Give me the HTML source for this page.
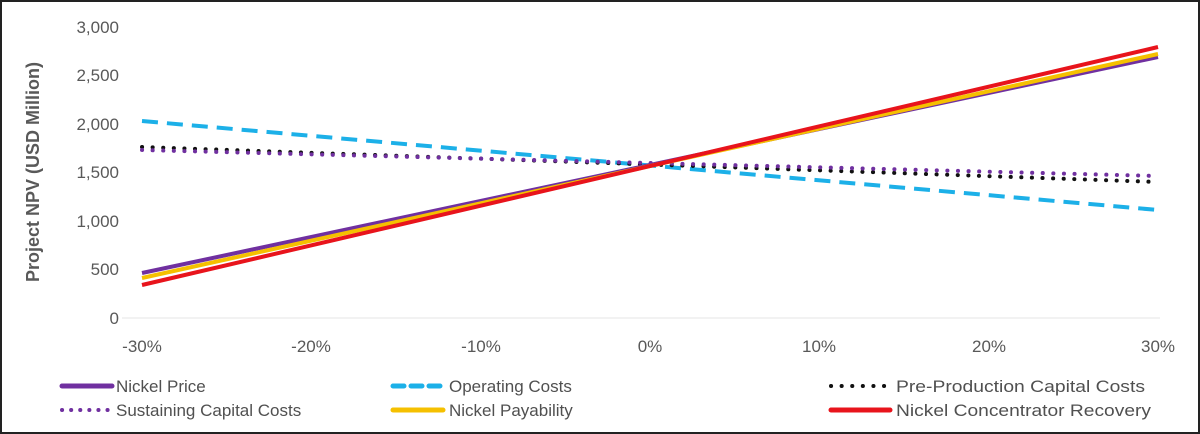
<!DOCTYPE html>
<html><head><meta charset="utf-8"><style>
body{margin:0;background:#fff}
svg{display:block;font-family:"Liberation Sans",sans-serif}
</style></head><body>
<svg width="1200" height="434" viewBox="0 0 1200 434">
<rect x="1" y="1" width="1198" height="432" fill="#fff" stroke="#222" stroke-width="2"/>
<line x1="122" y1="318" x2="1160" y2="318" stroke="#e4e4e4" stroke-width="1"/>
<g fill="#595959" font-size="17" text-anchor="end">
<text x="119" y="33">3,000</text><text x="119" y="81">2,500</text><text x="119" y="130">2,000</text>
<text x="119" y="178">1,500</text><text x="119" y="227">1,000</text><text x="119" y="275">500</text><text x="119" y="324">0</text>
</g>
<g fill="#595959" font-size="17" text-anchor="middle">
<text x="142" y="352">-30%</text><text x="311" y="352">-20%</text><text x="481" y="352">-10%</text>
<text x="650" y="352">0%</text><text x="819" y="352">10%</text><text x="989" y="352">20%</text><text x="1158" y="352">30%</text>
</g>
<text transform="translate(39,172) rotate(-90)" text-anchor="middle" fill="#595959" font-size="18" font-weight="bold">Project NPV (USD Million)</text>
<line x1="142" y1="121" x2="1158" y2="210" stroke="#1cb0e8" stroke-width="4" stroke-dasharray="16,9"/>
<line x1="142" y1="147" x2="1158" y2="182" stroke="#111" stroke-width="4" stroke-dasharray="0.1,10.5" stroke-linecap="round"/>
<line x1="142" y1="150" x2="1158" y2="176" stroke="#7030a0" stroke-width="4" stroke-dasharray="0.1,10.5" stroke-linecap="round"/>
<line x1="142" y1="273" x2="1158" y2="57" stroke="#7030a0" stroke-width="4"/>
<line x1="142" y1="278" x2="1158" y2="54" stroke="#f5c000" stroke-width="4"/>
<line x1="142" y1="285" x2="1158" y2="47" stroke="#e8141c" stroke-width="4"/>
<g font-size="17" fill="#505050">
<line x1="62" y1="386" x2="112" y2="386" stroke="#7030a0" stroke-width="5" stroke-linecap="round"/>
<text x="116" y="392">Nickel Price</text>
<line x1="62" y1="410" x2="112" y2="410" stroke="#7030a0" stroke-width="4" stroke-dasharray="0.1,9" stroke-linecap="round"/>
<text x="116" y="416">Sustaining Capital Costs</text>
<line x1="393" y1="386" x2="443" y2="386" stroke="#1cb0e8" stroke-width="5" stroke-dasharray="11,7" stroke-linecap="round"/>
<text x="449" y="392">Operating Costs</text>
<line x1="393" y1="410" x2="443" y2="410" stroke="#f5c000" stroke-width="5" stroke-linecap="round"/>
<text x="449" y="416">Nickel Payability</text>
<line x1="831" y1="386" x2="889" y2="386" stroke="#111" stroke-width="4" stroke-dasharray="0.1,10.5" stroke-linecap="round"/>
<text x="896" y="392" textLength="249" lengthAdjust="spacingAndGlyphs">Pre-Production Capital Costs</text>
<line x1="831" y1="410" x2="890" y2="410" stroke="#e8141c" stroke-width="5" stroke-linecap="round"/>
<text x="896" y="416" textLength="255" lengthAdjust="spacingAndGlyphs">Nickel Concentrator Recovery</text>
</g>
</svg>
</body></html>
